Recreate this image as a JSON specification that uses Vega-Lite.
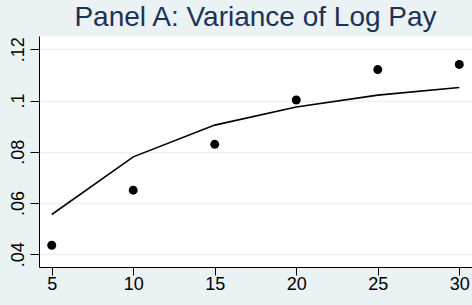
{
  "$schema": "https://vega.github.io/schema/vega-lite/v6.json",
  "width": 433,
  "height": 231,
  "autosize": {"type": "none"},
  "padding": {"left": 39, "top": 36, "right": 0, "bottom": 38},
  "background": "#EAF2F3",
  "config": {
    "view": {"fill": "white", "stroke": null},
    "font": "Liberation Sans"
  },
  "title": {
    "text": "Panel A: Variance of Log Pay",
    "fontSize": 28,
    "fontWeight": "normal",
    "color": "#1C3256",
    "font": "Liberation Sans",
    "anchor": "middle",
    "offset": 4
  },
  "data": {
    "values": [
      {"years": 5, "actual": 0.0435, "fitted": 0.0555},
      {"years": 10, "actual": 0.065, "fitted": 0.078},
      {"years": 15, "actual": 0.0829, "fitted": 0.0904},
      {"years": 20, "actual": 0.1002, "fitted": 0.0975},
      {"years": 25, "actual": 0.1121, "fitted": 0.1021},
      {"years": 30, "actual": 0.1141, "fitted": 0.1051}
    ]
  },
  "encoding": {
    "x": {
      "field": "years",
      "type": "quantitative",
      "scale": {"domain": [4.22, 30.78], "nice": false, "zero": false},
      "axis": {
        "title": null,
        "values": [5, 10, 15, 20, 25, 30],
        "grid": false,
        "domainColor": "black",
        "domainWidth": 1,
        "tickColor": "black",
        "tickSize": 8,
        "tickWidth": 1,
        "labelFontSize": 18,
        "labelColor": "black",
        "labelPadding": 0,
        "labelFlush": false
      }
    }
  },
  "layer": [
    {
      "mark": {"type": "line", "color": "black", "strokeWidth": 1.6},
      "encoding": {
        "y": {
          "field": "fitted",
          "type": "quantitative",
          "scale": {"domain": [0.035, 0.1252], "nice": false, "zero": false},
          "axis": {
            "title": null,
            "values": [0.04, 0.06, 0.08, 0.1, 0.12],
            "labelExpr": "substring(format(datum.value, '~g'), 1)",
            "grid": true,
            "gridColor": "#EAF2F3",
            "gridWidth": 1.5,
            "domainColor": "black",
            "domainWidth": 1,
            "tickColor": "black",
            "tickSize": 9,
            "tickWidth": 1,
            "labelFontSize": 18,
            "labelColor": "black",
            "labelAngle": 270,
            "labelAlign": "center",
            "labelBaseline": "bottom",
            "labelPadding": 3,
            "labelFlush": false
          }
        }
      }
    },
    {
      "mark": {"type": "point", "filled": true, "color": "black", "opacity": 1, "size": 80},
      "encoding": {
        "y": {"field": "actual", "type": "quantitative"}
      }
    }
  ]
}
